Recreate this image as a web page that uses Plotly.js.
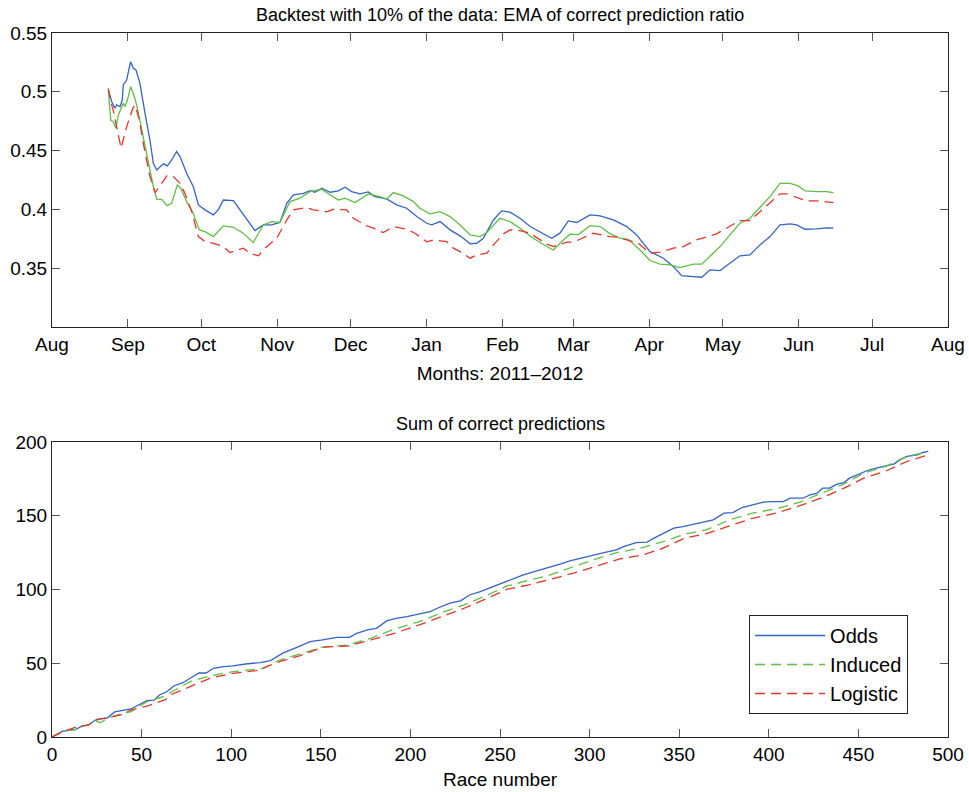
<!DOCTYPE html>
<html>
<head>
<meta charset="utf-8">
<script src="https://cdn.plot.ly/plotly-3.0.1.min.js"></script>
<style>html,body{margin:0;padding:0;background:#fff}#chart{width:969px;height:792px}</style>
</head>
<body>
<div id="chart"></div>
<script>
// ---------- Top panel: EMA of correct prediction ratio (days since 2011-08-01) ----------
const oddsDays = [23.0,24.4,25.7,26.4,27.8,28.7,29.1,30.5,32.1,33.2,34.3,35.9,38.0,40.0,41.4,42.8,45.5,47.1,48.9,50.9,52.3,55.0,57.7,59.8,62.5,65.9,67.9,70.0,74.1,77.5,80.2,82.9,86.3,89.7,93.1,95.9,98.6,102.7,105.4,107.4,110.2,113.6,117.0,119.7,122.4,125.8,129.2,131.9,136.7,140.8,144.9,149.0,153.1,155.1,158.5,162.6,166.7,170.8,173.5,176.2,180.3,183.7,187.1,191.2,195.3,199.3,204.1,207.5,210.9,214.3,219.8,223.9,229.3,234.8,238.8,244.3,249.7,253.8,257.2,261.9,265.4,268.8,272.9,276.9,281.0,285.1,289.2,293.3,297.4,301.5,304.2,307.6,312.4,316.4,319.2];
const oddsEMA = [0.5016,0.4916,0.486,0.4888,0.4874,0.493,0.5058,0.510,0.5256,0.52,0.5186,0.5072,0.4817,0.459,0.4392,0.4336,0.4387,0.437,0.442,0.4492,0.4449,0.4307,0.4194,0.4038,0.3996,0.3953,0.3996,0.408,0.4075,0.398,0.3896,0.382,0.3868,0.3868,0.3889,0.4052,0.4123,0.4137,0.416,0.4146,0.418,0.4146,0.4157,0.4188,0.4151,0.4132,0.4149,0.4109,0.4089,0.4038,0.401,0.3939,0.3882,0.3868,0.3896,0.3826,0.3775,0.3707,0.3712,0.3755,0.391,0.3987,0.3976,0.3925,0.3854,0.3811,0.3755,0.3798,0.3902,0.3889,0.3953,0.3945,0.391,0.3854,0.3783,0.3641,0.3585,0.3514,0.3437,0.3429,0.3423,0.3486,0.348,0.3542,0.3605,0.3613,0.3698,0.3769,0.3868,0.3877,0.3868,0.3831,0.3834,0.3843,0.384];

const inducedDays = [23.0,24.0,25.0,26.1,27.1,29.1,29.8,30.8,32.1,33.2,34.6,36.6,39.3,41.4,42.8,44.8,47.1,48.9,51.2,52.6,55.0,57.7,60.2,62.5,65.9,70.0,74.1,78.1,82.2,86.3,89.7,93.1,97.2,101.3,105.4,110.2,113.6,117.0,119.7,123.8,129.2,134.0,136.7,139.4,143.5,147.6,150.3,154.4,158.5,162.6,166.7,170.8,174.8,177.6,183.0,187.1,191.2,196.6,202.1,204.8,208.9,211.6,215.0,219.8,223.9,228.0,232.0,235.4,240.2,244.3,248.4,252.5,256.5,262.0,265.4,268.8,272.9,276.9,281.0,285.1,289.2,293.3,297.4,301.5,304.8,307.6,312.4,316.4,319.2];
const inducedEMA = [0.5016,0.476,0.4746,0.469,0.4803,0.4902,0.4874,0.493,0.5044,0.4987,0.4888,0.4676,0.4392,0.4194,0.4086,0.4086,0.4032,0.4052,0.4208,0.418,0.4066,0.3967,0.3826,0.3811,0.3769,0.386,0.3848,0.3798,0.3718,0.3868,0.3896,0.389,0.4066,0.4095,0.4151,0.4171,0.4123,0.408,0.4095,0.4058,0.4132,0.4109,0.4086,0.4143,0.4115,0.4066,0.401,0.3962,0.3981,0.3939,0.3868,0.3783,0.3769,0.3803,0.3925,0.3896,0.384,0.3755,0.3684,0.3655,0.374,0.3789,0.3786,0.3862,0.3854,0.3792,0.3755,0.3746,0.3655,0.3565,0.3534,0.3528,0.3505,0.3534,0.3534,0.3605,0.3684,0.3783,0.3882,0.3925,0.4018,0.4109,0.4222,0.4222,0.42,0.4157,0.4151,0.4151,0.4143];

const logisticDays = [23.0,24.0,25.0,26.4,28.2,30.5,31.6,33.0,33.9,35.7,37.3,38.7,40.0,42.1,43.4,46.9,49.3,52.3,54.3,57.1,59.8,62.5,65.9,70.0,72.7,78.1,80.9,84.3,87.0,91.8,95.9,98.6,104.0,106.7,112.2,114.9,120.4,123.1,128.6,131.3,135.3,139.4,144.9,148.3,153.1,155.8,161.2,163.9,166.7,170.8,173.5,177.6,180.3,184.4,187.1,191.2,195.3,202.1,204.8,210.3,213.0,218.4,221.1,227.9,231.3,234.8,239.5,244.3,248.4,253.8,257.9,263.2,267.3,271.4,275.5,281.0,285.1,289.2,293.3,297.4,300.1,305.6,308.3,312.4,316.4,319.2];
const logisticEMA = [0.503,0.4916,0.4846,0.469,0.452,0.4704,0.4775,0.486,0.4888,0.476,0.4562,0.442,0.4279,0.4143,0.418,0.4285,0.4285,0.4222,0.4137,0.398,0.3769,0.3726,0.3712,0.3684,0.3633,0.367,0.3627,0.3605,0.367,0.3755,0.391,0.3996,0.4015,0.3996,0.398,0.4001,0.3996,0.3925,0.386,0.384,0.3803,0.3854,0.3831,0.3797,0.3724,0.374,0.3726,0.367,0.3641,0.3585,0.3613,0.3627,0.3698,0.3792,0.3826,0.382,0.3797,0.3704,0.3684,0.3721,0.3721,0.3769,0.3797,0.3769,0.3763,0.374,0.3712,0.3627,0.3636,0.367,0.3684,0.374,0.3769,0.3792,0.384,0.3905,0.3905,0.398,0.4052,0.4132,0.4132,0.4095,0.4072,0.4072,0.4066,0.4058];

// ---------- Bottom panel: cumulative correct predictions ----------
const oddsRace = [0,6,13,17,20,25,31,35,44,49,53,57,60,64,68,73,77,82,86,90,96,101,108,116,122,129,137,144,151,159,166,170,176,181,187,192,198,205,211,215,222,228,233,239,244,250,257,263,271,278,284,289,297,302,308,315,319,326,332,337,343,347,352,358,364,369,375,380,385,391,397,401,408,412,419,423,427,430,434,438,442,445,449,455,460,466,470,473,477,483,486,489];
const oddsSum = [0,4,5,7.5,8,12,13,17,19,22,24.6,25,28.5,30.7,34.6,36.8,39.8,43.4,43.4,46.6,47.7,48.2,49.5,50.4,51.8,57,61,64.7,65.8,67.6,67.6,70.3,72.6,73.7,78.9,80.5,81.6,83.4,85,87.3,90.7,92.3,96.3,98.6,100.9,104,107.2,109.9,112.8,115.1,117.4,119.4,121.9,123.5,125,126.9,129.1,131.8,132.1,135.5,139.3,141.6,142.7,144.3,145.4,147.2,151.8,152.2,155.6,157.4,159.2,159.6,159.6,161.9,161.9,164.2,165.3,168.7,168.7,171.4,172.5,175.5,177.7,180.7,182.3,183.9,185.2,187.9,190.2,191.3,192.9,193.6];

const inducedRace = [0,6,13,17,20,24,27,31,38,44,53,62,67,77,88,101,114,118,127,138,151,165,178,191,205,218,230,243,254,267,278,291,302,315,328,341,353,365,378,391,404,417,429,442,453,466,477,488];
const inducedSum = [0,4,5,7.5,8,11,9.7,12.7,15.6,17.2,24,27.3,30.7,37.5,41.4,44.3,45.9,46.6,52.2,56.3,60.9,62.4,67,73.1,78.2,84.6,89.6,96.3,102.4,106.5,109.9,115.5,120.1,125,128,132.5,137.5,140.4,147.2,151.8,154.7,159,165.3,171.6,178.9,183.9,190.2,193.1];

const logisticRace = [0,6,14,20,26,31,38,44,53,63,67,77,88,101,114,127,138,151,165,178,191,205,218,230,243,254,266,279,291,304,317,330,341,353,366,378,391,404,417,429,442,453,466,477,488];
const logisticSum = [0,3.5,7,8,12,13,14.9,18.3,21,25.1,29,34.1,39.8,43.2,45,51.1,55,60.9,61.7,65.8,70.3,76,81.6,87.3,94.1,100.2,103.1,107,111.1,116,120.8,123.5,128,134.8,138.2,143.1,148.3,151.8,156.7,161.9,168.7,175.5,180.7,186.8,191.0];

// ---------- text ----------
const topTitle = 'Backtest with 10% of the data: EMA of correct prediction ratio';
const bottomTitle = 'Sum of correct predictions';
const topXLabel = 'Months: 2011\u20132012';
const bottomXLabel = 'Race number';
const seriesNames = ['Odds', 'Induced', 'Logistic'];
const topYTicks = [0.35, 0.4, 0.45, 0.5, 0.55];
const topYTickText = ['0.35', '0.4', '0.45', '0.5', '0.55'];
const bottomYTicks = [0, 50, 100, 150, 200];
const bottomXTicks = [0, 50, 100, 150, 200, 250, 300, 350, 400, 450, 500];

const BLUE = '#3463c2', GREEN = '#5fbe45', RED = '#e2352b';
const DASH = '10px,6px';
const base = Date.UTC(2011, 7, 1);
const toMs = d => base + d * 86400000;

const traces = [
  {x: oddsDays.map(toMs), y: oddsEMA, mode: 'lines', line: {color: BLUE, width: 1.3}, xaxis: 'x', yaxis: 'y', showlegend: false, name: seriesNames[0]},
  {x: inducedDays.map(toMs), y: inducedEMA, mode: 'lines', line: {color: GREEN, width: 1.3}, xaxis: 'x', yaxis: 'y', showlegend: false, name: seriesNames[1]},
  {x: logisticDays.map(toMs), y: logisticEMA, mode: 'lines', line: {color: RED, width: 1.3, dash: DASH}, xaxis: 'x', yaxis: 'y', showlegend: false, name: seriesNames[2]},
  {x: oddsRace, y: oddsSum, mode: 'lines', line: {color: BLUE, width: 1.3}, xaxis: 'x2', yaxis: 'y2', name: seriesNames[0]},
  {x: inducedRace, y: inducedSum, mode: 'lines', line: {color: GREEN, width: 1.3, dash: DASH}, xaxis: 'x2', yaxis: 'y2', name: seriesNames[1]},
  {x: logisticRace, y: logisticSum, mode: 'lines', line: {color: RED, width: 1.3, dash: DASH}, xaxis: 'x2', yaxis: 'y2', name: seriesNames[2]}
];

const FONT = 'Liberation Sans, Arial, Helvetica, sans-serif';
const axisCommon = {
  showline: true, linecolor: '#222', linewidth: 1, mirror: 'ticks',
  ticks: 'inside', ticklen: 8, tickcolor: '#555', tickwidth: 1,
  showgrid: false, zeroline: false,
  tickfont: {family: FONT, size: 19, color: '#000'}
};

const layout = {
  width: 969, height: 792,
  margin: {l: 52, r: 21, t: 33, b: 55},
  paper_bgcolor: '#fff', plot_bgcolor: '#fff',
  font: {family: FONT, size: 19, color: '#000'},
  xaxis: Object.assign({}, axisCommon, {
    type: 'date', domain: [0, 1], anchor: 'y',
    range: [base, Date.UTC(2012, 7, 1)],
    tick0: '2011-08-01', dtick: 'M1', tickformat: '%b',
    title: {text: topXLabel, font: {family: FONT, size: 19}, standoff: 12}
  }),
  yaxis: Object.assign({}, axisCommon, {
    domain: [0.5824, 1], anchor: 'x', range: [0.3, 0.55],
    tickmode: 'array', tickvals: topYTicks, ticktext: topYTickText
  }),
  xaxis2: Object.assign({}, axisCommon, {
    domain: [0, 1], anchor: 'y2', range: [0, 500],
    tickmode: 'array', tickvals: bottomXTicks,
    title: {text: bottomXLabel, font: {family: FONT, size: 19}, standoff: 8}
  }),
  yaxis2: Object.assign({}, axisCommon, {
    domain: [0, 0.419], anchor: 'x2', range: [0, 200],
    tickmode: 'array', tickvals: bottomYTicks
  }),
  legend: {
    x: 0.778, y: 0.1733, xanchor: 'left', yanchor: 'top',
    bordercolor: '#222', borderwidth: 1, bgcolor: '#fff',
    itemwidth: 70, tracegroupgap: 0,
    font: {family: FONT, size: 20, color: '#000'}
  },
  annotations: [
    {text: topTitle, xref: 'paper', yref: 'paper', x: 0.5, y: 1, yshift: 6, xanchor: 'center', yanchor: 'bottom', showarrow: false, font: {family: FONT, size: 18, color: '#000'}},
    {text: bottomTitle, xref: 'paper', yref: 'paper', x: 0.5, y: 0.419, yshift: 6, xanchor: 'center', yanchor: 'bottom', showarrow: false, font: {family: FONT, size: 18, color: '#000'}}
  ]
};

Plotly.newPlot('chart', traces, layout, {displayModeBar: false, staticPlot: true});
</script>
</body>
</html>
